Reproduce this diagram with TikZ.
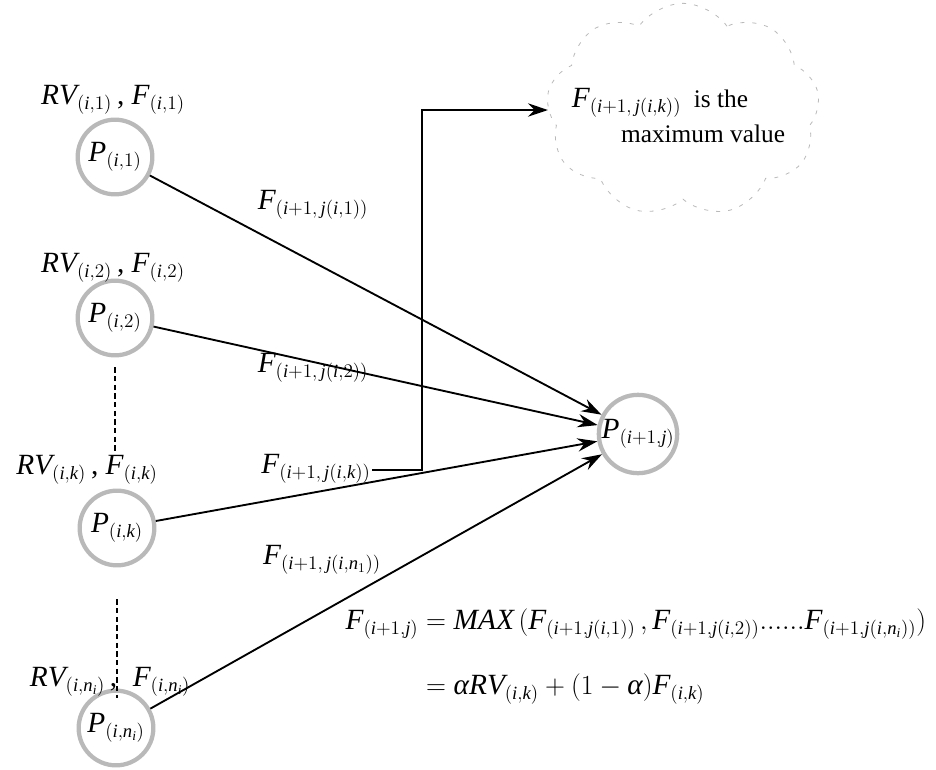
\documentclass[tikz,border=0pt]{standalone}
\usepackage{amsmath}
\usepackage{fontspec}
\setmainfont{Liberation Serif}
\usetikzlibrary{arrows.meta,shapes.symbols}
\edef\mytf{\rmdefault}
\DeclareSymbolFont{tletters}{TU}{\mytf}{m}{it}
\newcount\myc
\myc=`A
\loop
  \mathcode\myc=\numexpr "7000+"100*\symtletters+\myc\relax
  \advance\myc by 1
\ifnum\myc<`[ \repeat
\myc=`a
\loop
  \mathcode\myc=\numexpr "7000+"100*\symtletters+\myc\relax
  \advance\myc by 1
\ifnum\myc<`\{ \repeat
\DeclareMathSizes{22}{22}{14}{10}
\newcommand\myalpha{\text{\itshape α}}
\begin{document}
\begin{tikzpicture}[x=0.75pt,y=-0.75pt,
  every node/.style={font=\fontsize{22}{26}\selectfont, inner sep=1pt},
  txt/.style={font=\fontsize{19}{23}\selectfont},
  pnode/.style={circle, draw=gray!55, line width=3.2pt, minimum size=56pt, inner sep=0pt},
  arr/.style={line width=1.4pt, -{Stealth[length=15pt,width=10pt,inset=5pt]}},
  dotline/.style={line width=1.5pt, dash pattern=on 4pt off 2.5pt},
  cloudst/.style={cloud, cloud puffs=9, cloud puff arc=110, draw=gray!55, line width=0.6pt,
    dash pattern=on 3pt off 6pt, minimum width=205pt, minimum height=160pt, aspect=1.3}
]
\useasboundingbox (0,0) rectangle (936,769);

% source nodes
\node[pnode] (p1) at (115,157) {$P_{(i,1)}$};
\node[pnode] (p2) at (115,318) {$P_{(i,2)}$};
\node[pnode] (pk) at (117,528) {$P_{(i,k)}$};
\node[pnode] (pn) at (116,728) {$P_{(i,n_i)}$};
\node[pnode] (pj) at (638,434) {$P_{(i+1,j)}$};

% labels above nodes
\node (l1) at (113,100) {$RV_{(i,1)}$\,, $F_{(i,1)}$};
\node (l2) at (113,268) {$RV_{(i,2)}$\,, $F_{(i,2)}$};
\node (lk) at (87,470) {$RV_{(i,k)}$\,, $F_{(i,k)}$};
\node (ln) at (110,682) {$RV_{(i,n_i)}$\,,\; $F_{(i,n_i)}$};

% dashed continuation lines
\draw[dotline] (p2.south) ++(0,10) -- (p2.south |- lk.north);
\draw[dotline] (pk.south) ++(0,32) -- (pk.south |- ln.south);

% connectors
\draw[arr] (p1) -- (pj);
\draw[arr] (p2) -- (pj);
\draw[arr] (pk) -- (pj);
\draw[arr] (pn) -- (pj);

% edge labels
\node (e1) at (313,205) {$F_{(i+1,\,j(i,1))}$};
\node (e2) at (313,368) {$F_{(i+1,\,j(i,2))}$};
\node (ek) at (316,469) {$F_{(i+1,\,j(i,k))}$};
\node (en) at (322,560) {$F_{(i+1,\,j(i,n_1))}$};

% cloud
\node[cloudst] (cl) at (683,110) {};
\node[txt] (c1) at (660,103) {{\fontsize{22}{26}\selectfont$F_{(i+1,\,j(i,k))}$}\ \ is the};
\node[txt] (c2) at (703,134) {maximum value};

\draw[arr] ([yshift=-1pt]ek.east) -- ++(50,0) |- (cl.west);

% formula
\node[anchor=west] (fm) at (344,655) {$\begin{aligned}
F_{(i+1,j)} &= MAX\,(F_{(i+1,j(i,1))}\,,F_{(i+1,j(i,2))}......F_{(i+1,j(i,n_i))})\\[20pt]
&= \myalpha RV_{(i,k)}+(1-\myalpha)F_{(i,k)}
\end{aligned}$};
\end{tikzpicture}
\end{document}
